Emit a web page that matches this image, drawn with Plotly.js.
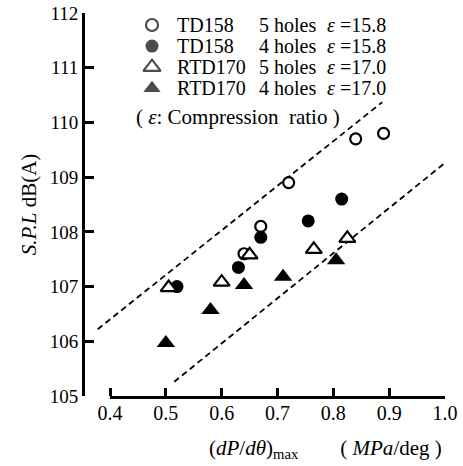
<!DOCTYPE html>
<html>
<head>
<meta charset="utf-8">
<script src="https://cdn.plot.ly/plotly-3.0.1.min.js"></script>
<style>html,body{margin:0;padding:0;background:#fff;}#chart{width:463px;height:466px;}</style>
</head>
<body>
<div id="chart"></div>
<script>
// ---- data ----
var td158_5_x = [0.64, 0.67, 0.72, 0.84, 0.89];
var td158_5_y = [107.6, 108.1, 108.9, 109.7, 109.8];
var td158_4_x = [0.52, 0.63, 0.67, 0.755, 0.815];
var td158_4_y = [107.0, 107.35, 107.9, 108.2, 108.6];
var rtd170_5_x = [0.505, 0.60, 0.65, 0.765, 0.825];
var rtd170_5_y = [106.98, 107.08, 107.58, 107.68, 107.88];
var rtd170_4_x = [0.50, 0.58, 0.64, 0.71, 0.805];
var rtd170_4_y = [105.97, 106.57, 107.03, 107.18, 107.48];
var upperLine_x = [0.378, 0.8875];
var upperLine_y = [106.22, 110.37];
var lowerLine_x = [0.515, 1.0];
var lowerLine_y = [105.26, 109.26];
var xTicks = [0.4, 0.5, 0.6, 0.7, 0.8, 0.9, 1.0];
var xTickText = ['0.4', '0.5', '0.6', '0.7', '0.8', '0.9', '1.0'];
var yTicks = [105, 106, 107, 108, 109, 110, 111, 112];
var engines = ['TD158', 'TD158', 'RTD170', 'RTD170'];
var holes = ['5 holes', '4 holes', '5 holes', '4 holes'];
var ratios = ['<i>ε</i> =15.8', '<i>ε</i> =15.8', '<i>ε</i> =17.0', '<i>ε</i> =17.0'];
var keySymbols = ['circle', 'circle', 'triangle-up', 'triangle-up'];
var keyFills = ['white', 'black', 'white', 'black'];
var keySizes = [12, 13, 15, 15];

// ---- layout geometry ----
var W = 463, H = 466;
var M = {l: 85, r: 18, t: 13, b: 70};
var pw = W - M.l - M.r, ph = H - M.t - M.b;
function px2x(px) { return (px - M.l) / pw; }
function py2y(py) { return (H - M.b - py) / ph; }

var FONT = '"Liberation Serif", "Times New Roman", serif';
var black = '#000';

function openMarker(sym, size) { return {symbol: sym, size: size, color: 'white', line: {color: black, width: 2.2}}; }
function fillMarker(sym, size) { return {symbol: sym, size: size, color: black, line: {color: black, width: 0}}; }

var dashStyle = {color: black, width: 1.8, dash: '6px,4px'};

var traces = [
  {x: upperLine_x, y: upperLine_y, mode: 'lines', line: dashStyle, showlegend: false, hoverinfo: 'skip'},
  {x: lowerLine_x, y: lowerLine_y, mode: 'lines', line: dashStyle, showlegend: false, hoverinfo: 'skip'},
  {x: td158_5_x, y: td158_5_y, mode: 'markers', name: 'TD158 5 holes', marker: openMarker('circle', 11), showlegend: false},
  {x: td158_4_x, y: td158_4_y, mode: 'markers', name: 'TD158 4 holes', marker: fillMarker('circle', 13), showlegend: false},
  {x: rtd170_5_x, y: rtd170_5_y, mode: 'markers', name: 'RTD170 5 holes', marker: openMarker('triangle-up', 14), showlegend: false},
  {x: rtd170_4_x, y: rtd170_4_y, mode: 'markers', name: 'RTD170 4 holes', marker: fillMarker('triangle-up', 16), showlegend: false}
];

// key (legend) rows
var rowY = engines.map(function (_, i) { return py2y(25 + 21.1 * i); });
var symX = engines.map(function () { return px2x(152); });
traces.push({
  x: symX, y: rowY, xaxis: 'x2', yaxis: 'y2', mode: 'markers', showlegend: false, hoverinfo: 'skip',
  marker: {
    symbol: keySymbols, size: keySizes, color: keyFills,
    line: {color: black, width: keyFills.map(function (f) { return f === 'white' ? 2.2 : 0; })}
  }
});

var annotations = [];
engines.forEach(function (e, i) {
  var base = {xref: 'paper', yref: 'paper', y: rowY[i], xanchor: 'left', yanchor: 'middle', showarrow: false,
              font: {family: FONT, size: 20, color: black}};
  annotations.push(Object.assign({}, base, {x: px2x(175), text: e}));
  annotations.push(Object.assign({}, base, {x: px2x(257), text: holes[i]}));
  annotations.push(Object.assign({}, base, {x: px2x(325), text: ratios[i]}));
});
annotations.push({xref: 'paper', yref: 'paper', x: px2x(238), y: py2y(117), xanchor: 'center', yanchor: 'middle',
  showarrow: false, text: '(\u00a0<i>ε</i>: Compression\u00a0\u00a0ratio\u00a0)', font: {family: FONT, size: 21, color: black}});
annotations.push({xref: 'paper', yref: 'paper', x: px2x(207), y: py2y(449), xanchor: 'left', yanchor: 'middle',
  showarrow: false, text: '(<i>dP</i>/<i>dθ</i>)<sub>max</sub>\u00a0\u00a0\u00a0\u00a0\u00a0\u00a0\u00a0\u00a0(\u00a0<i>MPa</i>/deg\u00a0)',
  font: {family: FONT, size: 21, color: black}});

var layout = {
  width: W, height: H,
  margin: M,
  paper_bgcolor: 'white', plot_bgcolor: 'white',
  showlegend: false,
  font: {family: FONT, size: 19, color: black},
  xaxis: {
    range: [0.4 - (110 - M.l) / 558, 1.0], showgrid: false, zeroline: false, showline: false,
    tickmode: 'array', tickvals: xTicks, ticktext: xTickText,
    ticks: 'inside', ticklen: 8, tickwidth: 3, tickcolor: black, ticklabelstandoff: 3,
    tickfont: {family: FONT, size: 20, color: black}
  },
  yaxis: {
    range: [105, 112], showgrid: false, zeroline: false, showline: true, linewidth: 3, linecolor: black,
    tickmode: 'array', tickvals: yTicks,
    ticks: 'inside', ticklen: 9, tickwidth: 3, tickcolor: black,
    tickfont: {family: FONT, size: 19, color: black},
    title: {text: '<i>S.P.L</i> dB(A)', font: {family: FONT, size: 21, color: black}, standoff: 8}
  },
  xaxis2: {overlaying: 'x', range: [0, 1], visible: false, fixedrange: true},
  yaxis2: {overlaying: 'y', range: [0, 1], visible: false, fixedrange: true},
  shapes: [{type: 'line', xref: 'x', yref: 'paper', x0: 0.4, x1: 1.0, y0: -0.004, y1: -0.004,
            line: {color: black, width: 3}}],
  annotations: annotations
};

Plotly.newPlot('chart', traces, layout, {staticPlot: true, displayModeBar: false});
</script>
</body>
</html>
